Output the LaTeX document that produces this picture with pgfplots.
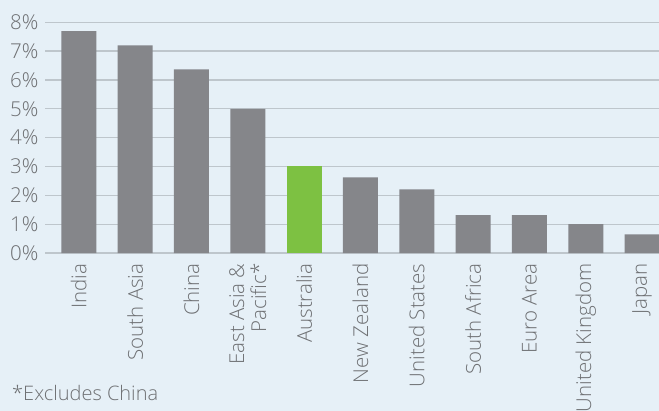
\documentclass[border=0pt]{standalone}
\usepackage{fontspec}
\setmainfont{Open Sans}[UprightFont={* Light}]
\usepackage{pgfplots}
\pgfplotsset{compat=1.18}
\definecolor{bgc}{RGB}{230,240,247}
\definecolor{barg}{RGB}{133,134,138}
\definecolor{bargreen}{RGB}{125,193,66}
\definecolor{txt}{RGB}{110,112,115}
\definecolor{gridc}{RGB}{190,198,204}
\begin{document}
\begin{tikzpicture}
\fill[bgc] (0,0) rectangle (659bp,411bp);
\begin{axis}[
  at={(45bp,158bp)}, anchor=south west,
  scale only axis, width=614bp, height=230.7bp,
  xmin=-0.6, xmax=10.3, ymin=0, ymax=8,
  axis line style={draw=none},
  major tick length=0pt,
  ymajorgrids, grid style={gridc, line width=1.3bp},
  ytick={0,1,2,3,4,5,6,7,8},
  yticklabels={0\%,1\%,2\%,3\%,4\%,5\%,6\%,7\%,8\%},
  xtick={0,1,2,3,4,5,6,7,8,9,10},
  xticklabels={India,South Asia,China,{East Asia \&\\Pacific*},Australia,New Zealand,United States,South Africa,Euro Area,United Kingdom,Japan},
  ticklabel style={font=\fontsize{20.5bp}{22bp}\selectfont, text=txt},
  yticklabel style={xshift=-3bp},
  xticklabel style={rotate=90, anchor=east, align=right},
  xticklabel shift=7bp,
  clip=false,
]
\addplot[ybar, bar width=35bp, fill=barg, draw=none] coordinates {
 (0,7.69) (1,7.2) (2,6.37) (3,5.0) (5,2.62) (6,2.21) (7,1.31) (8,1.31) (9,1.0) (10,0.65)};
\addplot[ybar, bar width=35bp, fill=bargreen, draw=none] coordinates {(4,3.0)};
\end{axis}
\node[anchor=west, text=txt, font=\fontsize{20bp}{22bp}\selectfont, inner sep=0pt] at (12bp,18bp) {*Excludes China};
\pgfresetboundingbox
\path[use as bounding box] (0,0) rectangle (659bp,411bp);
\end{tikzpicture}
\end{document}
